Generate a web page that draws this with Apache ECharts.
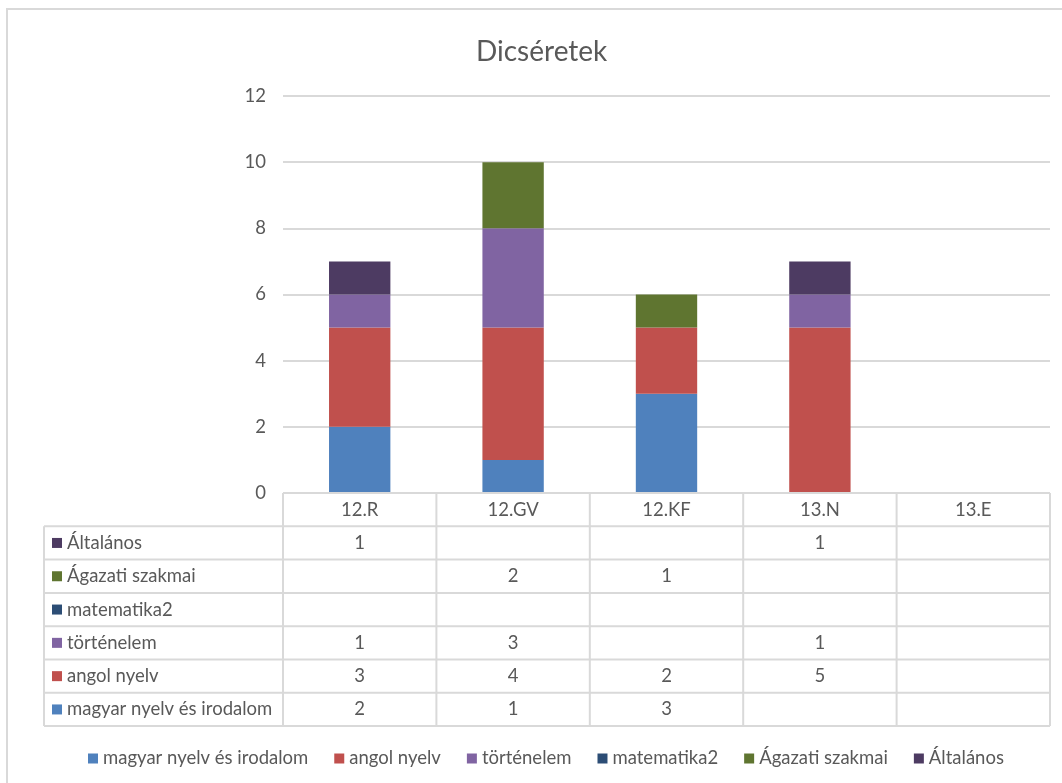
<!DOCTYPE html>
<html>
<head>
<meta charset="utf-8">
<script src="https://cdn.jsdelivr.net/npm/echarts@6/dist/echarts.min.js"></script>
<style>
  html, body { margin: 0; padding: 0; background: #fff; }
  #chart { width: 1062px; height: 783px; }
</style>
</head>
<body>
<div id="chart"></div>
<script>
// ---- data ----
const categories = ['12.R', '12.GV', '12.KF', '13.N', '13.E'];
const seriesNames = ['magyar nyelv és irodalom', 'angol nyelv', 'történelem', 'matematika2', 'Ágazati szakmai', 'Általános'];
const magyar = [2, 1, 3, null, null];
const angol = [3, 4, 2, 5, null];
const tortenelem = [1, 3, null, 1, null];
const matematika2 = [null, null, null, null, null];
const agazati = [null, 2, 1, null, null];
const altalanos = [1, null, null, 1, null];
const yTicks = [0, 2, 4, 6, 8, 10, 12];

const seriesData = [magyar, angol, tortenelem, matematika2, agazati, altalanos];
const colors = ['#4F81BD', '#C0504D', '#8064A2', '#2C4D75', '#5F7530', '#4D3B62'];
const FONT = 'Lato';
const FS = 18.5;
const TXT = '#595959';
const LINE = '#d9d9d9';

const chart = echarts.init(document.getElementById('chart'));

const option = {
  animation: false,
  backgroundColor: '#fff',
  color: colors,
  title: {
    text: 'Dicséretek',
    left: 471,
    top: 33,
    textStyle: { fontFamily: FONT, fontSize: 28, fontWeight: 'normal', color: TXT }
  },
  legend: {
    bottom: 10,
    left: 83,
    itemWidth: 10,
    itemHeight: 10,
    itemGap: 26,
    icon: 'rect',
    data: seriesNames,
    textStyle: { fontFamily: FONT, fontSize: FS, color: TXT }
  },
  grid: { left: 283, right: 12, top: 96, bottom: 290, containLabel: false },
  xAxis: {
    type: 'category',
    data: categories,
    axisLine: { show: false },
    axisTick: { show: false },
    axisLabel: { show: false }
  },
  yAxis: {
    type: 'value',
    min: yTicks[0],
    max: yTicks[yTicks.length - 1],
    interval: 2,
    axisLine: { show: false },
    axisTick: { show: false },
    axisLabel: { color: TXT, fontFamily: FONT, fontSize: FS, margin: 17 },
    splitLine: { lineStyle: { color: LINE, width: 2 } }
  },
  series: seriesNames.map((name, i) => ({
    name: name,
    type: 'bar',
    stack: 'total',
    barWidth: '40%',
    data: seriesData[i],
    itemStyle: { color: colors[i] }
  })),
  graphic: []
};
chart.setOption(option);

// ---- data table below the plot, positioned from the axis scales ----
function buildTable() {
  const c0 = chart.convertToPixel({ xAxisIndex: 0 }, 0);
  const c1 = chart.convertToPixel({ xAxisIndex: 0 }, 1);
  const band = c1 - c0;
  const x0 = c0 - band / 2;
  const xEnd = x0 + band * categories.length;
  const yTop = chart.convertToPixel({ yAxisIndex: 0 }, 0);
  const rowH = 33.3;
  const leftX = 44;
  const nRows = seriesNames.length;
  const yBottom = yTop + rowH * (nRows + 1);
  const g = [];
  const ls = { stroke: LINE, lineWidth: 2 };
  const font = FS + 'px ' + FONT;
  g.push({ type: 'line', shape: { x1: x0, y1: yTop, x2: xEnd, y2: yTop }, style: ls, z: 10 });
  for (let r = 1; r <= nRows + 1; r++) {
    const y = yTop + rowH * r;
    g.push({ type: 'line', shape: { x1: leftX, y1: y, x2: xEnd, y2: y }, style: ls, z: 10 });
  }
  for (let c = 0; c <= categories.length; c++) {
    const x = x0 + band * c;
    g.push({ type: 'line', shape: { x1: x, y1: yTop, x2: x, y2: yBottom }, style: ls, z: 10 });
  }
  g.push({ type: 'line', shape: { x1: leftX, y1: yTop + rowH, x2: leftX, y2: yBottom }, style: ls, z: 10 });
  categories.forEach((cat, i) => {
    g.push({ type: 'text', x: x0 + band * (i + 0.5), y: yTop + rowH / 2,
      style: { text: cat, fill: TXT, font: font, align: 'center', verticalAlign: 'middle' }, z: 11 });
  });
  for (let r = 0; r < nRows; r++) {
    const si = nRows - 1 - r;
    const yc = yTop + rowH * (r + 1.5);
    g.push({ type: 'rect', shape: { x: 52, y: yc - 5, width: 10, height: 10 }, style: { fill: colors[si] }, z: 11 });
    g.push({ type: 'text', x: 67, y: yc,
      style: { text: seriesNames[si], fill: TXT, font: font, align: 'left', verticalAlign: 'middle' }, z: 11 });
    seriesData[si].forEach((v, ci) => {
      if (v !== null && v !== undefined) {
        g.push({ type: 'text', x: x0 + band * (ci + 0.5), y: yc,
          style: { text: String(v), fill: TXT, font: font, align: 'center', verticalAlign: 'middle' }, z: 11 });
      }
    });
  }
  g.push({ type: 'rect', shape: { x: 7, y: 9, width: 1080, height: 800 }, style: { fill: 'none', stroke: LINE, lineWidth: 2 }, z: 0 });
  chart.setOption({ graphic: g });
}
buildTable();
</script>
</body>
</html>
